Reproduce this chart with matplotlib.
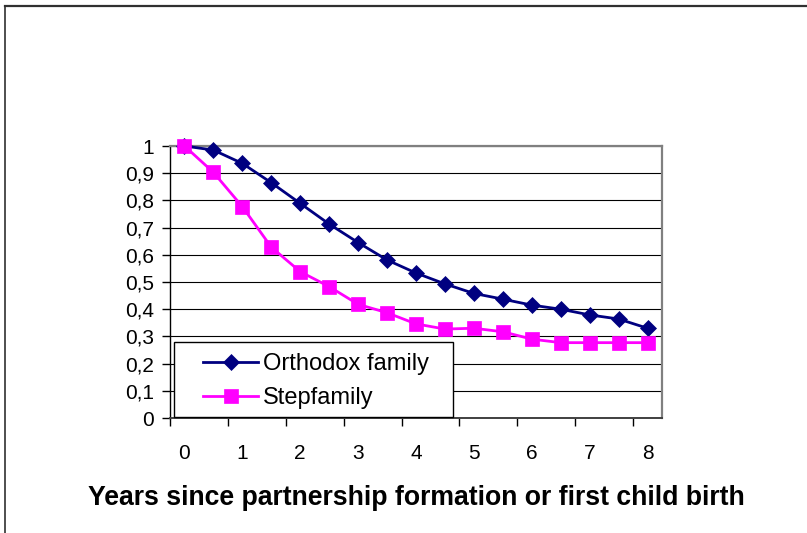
import matplotlib
matplotlib.use("Agg")
import matplotlib.pyplot as plt
from matplotlib.lines import Line2D
from matplotlib.patches import Rectangle
from matplotlib.ticker import FixedLocator, FuncFormatter

plt.rcParams['font.family'] = ['Liberation Sans', 'DejaVu Sans']

years = [0, 0.5, 1, 1.5, 2, 2.5, 3, 3.5, 4, 4.5, 5, 5.5, 6, 6.5, 7, 7.5, 8]
orthodox = [1.0, 0.985, 0.936, 0.865, 0.789, 0.713, 0.645, 0.581, 0.533,
            0.493, 0.458, 0.437, 0.415, 0.400, 0.379, 0.364, 0.330]
stepfamily = [1.0, 0.903, 0.777, 0.628, 0.538, 0.483, 0.418, 0.387, 0.346,
              0.327, 0.330, 0.317, 0.290, 0.277, 0.277, 0.277, 0.277]
x_tick_values = [0, 1, 2, 3, 4, 5, 6, 7, 8]
y_tick_values = [0, 0.1, 0.2, 0.3, 0.4, 0.5, 0.6, 0.7, 0.8, 0.9, 1.0]
series_names = ["Orthodox family", "Stepfamily"]
x_label = "Years since partnership formation or first child birth"

W, H = 807, 533
fig = plt.figure(figsize=(W / 100, H / 100), dpi=100)
fig.patch.set_facecolor('white')

L, R, T, B = 170, 662, 146, 418
ax = fig.add_axes([L / W, 1 - B / H, (R - L) / W, (B - T) / H])
ax.set_facecolor('white')

ax.set_xlim(years[0] - 0.25, years[-1] + 0.25)
ax.set_ylim(0, 1)

ax.set_yticks(y_tick_values)
ax.yaxis.set_major_formatter(FuncFormatter(
    lambda v, p: ("%g" % round(v, 1)).replace('.', ',')))
ax.yaxis.grid(True, color='black', linewidth=0.8)
ax.set_axisbelow(True)

ax.xaxis.set_major_locator(FixedLocator(x_tick_values))
ax.xaxis.set_major_formatter(FuncFormatter(lambda v, p: "%d" % v))
ax.xaxis.set_minor_locator(FixedLocator([v - 0.25 for v in x_tick_values]))
ax.tick_params(axis='x', which='major', length=0, pad=19, labelsize=15)
ax.tick_params(axis='x', which='minor', length=6, width=1, direction='out', color='black')
ax.tick_params(axis='y', length=5.5, width=1, direction='out', pad=6, labelsize=15,
               color='black')

for s in ['top', 'right']:
    ax.spines[s].set_color('#808080')
    ax.spines[s].set_linewidth(1.6)
ax.spines['left'].set_color('black')
ax.spines['left'].set_linewidth(1.0)
ax.spines['bottom'].set_color('#404040')
ax.spines['bottom'].set_linewidth(1.4)

l1, = ax.plot(years, orthodox, color='#000080', linewidth=2.0, marker='D',
              markersize=8, markerfacecolor='#000080', markeredgecolor='#000080',
              markeredgewidth=0.5, clip_on=False, zorder=3)
l2, = ax.plot(years, stepfamily, color='#FF00FF', linewidth=2.0, marker='s',
              markersize=10, markerfacecolor='#FF00FF', markeredgecolor='#FF00FF',
              markeredgewidth=0.5, clip_on=False, zorder=3)

# legend box
ax.add_patch(Rectangle((174 / W, 1 - 417 / H), (453 - 174) / W, (417 - 342) / H,
                       transform=fig.transFigure, facecolor='white', edgecolor='black',
                       linewidth=1.0, clip_on=False, zorder=4))
leg = ax.legend([l1, l2], series_names, loc='center left',
                bbox_to_anchor=(203 / W, 1 - 381 / H), bbox_transform=fig.transFigure,
                frameon=False, fontsize=17, handlelength=2.35, handletextpad=0.2,
                labelspacing=0.5, borderpad=0, borderaxespad=0)
leg.set_zorder(5)

fig.text(416 / W, 1 - 505 / H, x_label, ha='center', va='baseline',
         fontsize=19.2, fontweight='bold')

# outer chart frame (top and left edges)
fig.add_artist(Line2D([5 / W, 1], [1 - 5.5 / H, 1 - 5.5 / H], transform=fig.transFigure,
                      color='#303030', linewidth=1.6))
fig.add_artist(Line2D([5 / W, 5 / W], [0, 1 - 5.5 / H], transform=fig.transFigure,
                      color='#303030', linewidth=1.2))

fig.savefig('out.png', dpi=100)
